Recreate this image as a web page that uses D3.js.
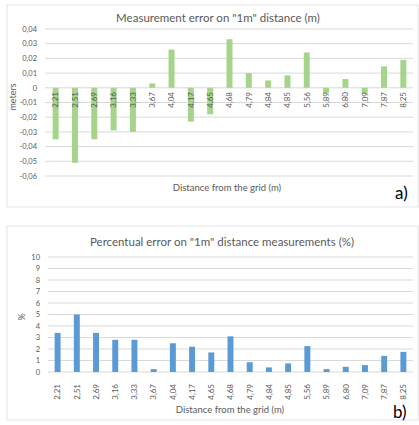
<!DOCTYPE html>
<html>
<head>
<meta charset="utf-8">
<script src="https://cdn.jsdelivr.net/npm/d3@7"></script>
<style>
  body { margin: 0; background: #fff; }
  svg { display: block; font-family: Lato, "Open Sans", sans-serif; }
</style>
</head>
<body>
<svg id="chart" width="419" height="425"></svg>
<script>
var distances = ['2,21', '2,51', '2,69', '3,16', '3,33', '3,67', '4,04', '4,17', '4,65', '4,68',
                 '4,79', '4,84', '4,85', '5,56', '5,89', '6,80', '7,09', '7,87', '8,25'];
var errorMeters = [-0.035, -0.051, -0.035, -0.029, -0.030, 0.003, 0.026, -0.023, -0.018, 0.033,
                   0.010, 0.005, 0.0085, 0.024, -0.0035, 0.006, -0.004, 0.0145, 0.019];
var errorPercent = [3.4, 5.0, 3.4, 2.8, 2.8, 0.25, 2.5, 2.2, 1.7, 3.1,
                    0.85, 0.4, 0.75, 2.25, 0.25, 0.45, 0.6, 1.4, 1.75];
var ticksA = [0.04, 0.03, 0.02, 0.01, 0, -0.01, -0.02, -0.03, -0.04, -0.05, -0.06];
var ticksB = [0, 1, 2, 3, 4, 5, 6, 7, 8, 9, 10];

var svg = d3.select('#chart');
var textColor = '#595959';
var gridColor = '#d9d9d9';

function comma(v, digits) {
  return d3.format('.' + digits + 'f')(v).replace('.', ',').replace('−', '-');
}

// frames
svg.append('rect').attr('x', 7).attr('y', 5).attr('width', 411).attr('height', 202)
  .attr('fill', 'none').attr('stroke', '#e3e3e3');
svg.append('rect').attr('x', 7).attr('y', 226).attr('width', 411).attr('height', 194)
  .attr('fill', 'none').attr('stroke', '#e3e3e3');

// ---- chart a ----
var xa = d3.scaleBand().domain(distances).range([46, 413]).paddingInner(0.69).paddingOuter(0.345);
var ya = d3.scaleLinear().domain([-0.06, 0.04]).range([176, 29]);

var ga = svg.append('g');
ga.selectAll('.grid').data(ticksA).enter().append('line')
  .attr('x1', 45).attr('x2', 413)
  .attr('y1', function(d) { return ya(d); }).attr('y2', function(d) { return ya(d); })
  .attr('stroke', gridColor).attr('stroke-width', 1);

ga.selectAll('.tick').data(ticksA).enter().append('text')
  .attr('x', 37).attr('y', function(d) { return ya(d) + 2.7; })
  .attr('text-anchor', 'end').attr('font-size', 7.5).attr('fill', textColor)
  .text(function(d) { return d === 0 ? '0' : comma(d, 2); });

ga.selectAll('.bar').data(errorMeters).enter().append('rect')
  .attr('x', function(d, i) { return xa(distances[i]); })
  .attr('width', xa.bandwidth())
  .attr('y', function(d) { return ya(Math.max(0, d)); })
  .attr('height', function(d) { return Math.abs(ya(d) - ya(0)); })
  .attr('fill', '#a6d48a');

ga.selectAll('.cat').data(distances).enter().append('text')
  .attr('transform', function(d) {
    return 'translate(' + (xa(d) + xa.bandwidth() / 2 + 2.8) + ',' + 92 + ') rotate(-90)';
  })
  .attr('text-anchor', 'end').attr('font-size', 8).attr('fill', textColor)
  .text(function(d) { return d; });

ga.append('text').attr('x', 218).attr('y', 22).attr('text-anchor', 'middle')
  .attr('font-size', 11.5).attr('fill', textColor)
  .text('Measurement error on "1m" distance (m)');
ga.append('text').attr('transform', 'translate(16,97) rotate(-90)')
  .attr('text-anchor', 'middle').attr('font-size', 9).attr('fill', textColor).text('meters');
ga.append('text').attr('x', 227).attr('y', 191).attr('text-anchor', 'middle')
  .attr('font-size', 9.5).attr('fill', textColor).text('Distance from the grid  (m)');
ga.append('text').attr('x', 395).attr('y', 199)
  .attr('font-size', 17).attr('fill', '#000').text('a)');

// ---- chart b ----
var xb = d3.scaleBand().domain(distances).range([48, 413]).paddingInner(0.69).paddingOuter(0.345);
var yb = d3.scaleLinear().domain([0, 10]).range([372, 257]);

var gb = svg.append('g');
gb.selectAll('.grid').data(ticksB).enter().append('line')
  .attr('x1', 48).attr('x2', 413)
  .attr('y1', function(d) { return yb(d); }).attr('y2', function(d) { return yb(d); })
  .attr('stroke', gridColor).attr('stroke-width', 1);

gb.selectAll('.tick').data(ticksB).enter().append('text')
  .attr('x', 40).attr('y', function(d) { return yb(d) + 2.7; })
  .attr('text-anchor', 'end').attr('font-size', 7.5).attr('fill', textColor)
  .text(function(d) { return d; });

gb.selectAll('.bar').data(errorPercent).enter().append('rect')
  .attr('x', function(d, i) { return xb(distances[i]); })
  .attr('width', xb.bandwidth())
  .attr('y', function(d) { return yb(d); })
  .attr('height', function(d) { return yb(0) - yb(d); })
  .attr('fill', '#5b9bd5');

gb.selectAll('.cat').data(distances).enter().append('text')
  .attr('transform', function(d) {
    return 'translate(' + (xb(d) + xb.bandwidth() / 2 + 2.8) + ',' + 384 + ') rotate(-90)';
  })
  .attr('text-anchor', 'end').attr('font-size', 8).attr('fill', textColor)
  .text(function(d) { return d; });

gb.append('text').attr('x', 222).attr('y', 246).attr('text-anchor', 'middle')
  .attr('font-size', 11.5).attr('fill', textColor)
  .text('Percentual error on "1m" distance measurements (%)');
gb.append('text').attr('transform', 'translate(25,317) rotate(-90)')
  .attr('text-anchor', 'middle').attr('font-size', 9).attr('fill', textColor).text('%');
gb.append('text').attr('x', 230).attr('y', 413).attr('text-anchor', 'middle')
  .attr('font-size', 9.5).attr('fill', textColor).text('Distance from the grid  (m)');
gb.append('text').attr('x', 393).attr('y', 418)
  .attr('font-size', 17).attr('fill', '#000').text('b)');
</script>
</body>
</html>
